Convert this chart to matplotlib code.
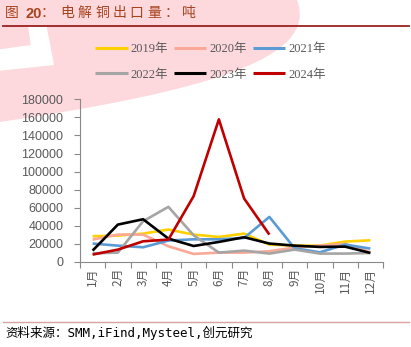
"""电解铜出口量 (吨), 2019-2024 monthly lines."""

import matplotlib
matplotlib.use("Agg")
import matplotlib.pyplot as plt
from matplotlib.patches import PathPatch, Polygon
from matplotlib.path import Path
from matplotlib.ticker import FixedLocator

W, H, DPI = 411, 347, 100

months = ["1月", "2月", "3月", "4月", "5月", "6月",
          "7月", "8月", "9月", "10月", "11月", "12月"]

y2019 = [28500, 29200, 31400, 35900, 30300, 27700, 31400, 19300, 18100, 18100, 22600, 24000]
y2020 = [24800, 30300, 30300, 17400, 8900, 10400, 10400, 11900, 16000, 18100, 20000, 10700]
y2021 = [20400, 18100, 16300, 23700, 25100, 25100, 26600, 49900, 15200, 10700, 19300, 14800]
y2022 = [9600, 10400, 45100, 61000, 29600, 10400, 12600, 9300, 13700, 9300, 9300, 10000]
y2023 = [12600, 41400, 47300, 25900, 17700, 22200, 27400, 20400, 18100, 16700, 17000, 10000]
y2024 = [8200, 13700, 22900, 24800, 72800, 157800, 70200, 30300]

series = [
    ("2019年", y2019, "#FFD000"),
    ("2020年", y2020, "#F9A995"),
    ("2021年", y2021, "#5B9BD5"),
    ("2022年", y2022, "#A5A5A5"),
    ("2023年", y2023, "#000000"),
    ("2024年", y2024, "#C00000"),
]

TITLE_CHARS = "电解铜出口量：吨"
LEGEND_FONT = ["Liberation Serif", "Noto Sans CJK SC"]
GRAY = "#595959"
TITLE_COLOR = "#A8431C"

fig = plt.figure(figsize=(W / DPI, H / DPI), dpi=DPI)

# background layer in pixel coords (y down)
bg = fig.add_axes([0, 0, 1, 1], zorder=-1)
bg.set_xlim(0, W)
bg.set_ylim(H, 0)
bg.axis("off")

pink = "#FDD9DE"
verts = [(0, 0), (0, 122), (200, 92), (320, 60), (297, 0), (0, 0)]
codes = [Path.MOVETO, Path.LINETO, Path.CURVE4, Path.CURVE4, Path.CURVE4, Path.CLOSEPOLY]
bg.add_patch(PathPatch(Path(verts, codes), facecolor=pink, edgecolor="none"))
bg.add_patch(Polygon([(0, 49.3), (30.7, 45), (28.3, 27), (46.7, 27), (54, 65), (0, 70.7)],
                     closed=True, facecolor="white", edgecolor="none"))

bg.plot([3, 409], [25.5, 25.5], color="#9B2121", lw=1.3)
bg.plot([3, 409], [322, 322], color="#D9A3A3", lw=1.0)

# title, spaced out like the report template
bg.text(5, 13, "图", color=TITLE_COLOR, fontsize=10,
        family=["Noto Sans CJK SC"], va="center", ha="left")
bg.text(25, 13.5, "20", color=TITLE_COLOR, fontsize=10.5, fontweight="bold",
        family=["Liberation Sans"], va="center", ha="left")
bg.text(41, 13, "：", color=TITLE_COLOR, fontsize=10,
        family=["Noto Sans CJK SC"], va="center", ha="left")
for i, ch in enumerate(TITLE_CHARS):
    bg.text(60.5 + i * 17.3, 13, ch, color=TITLE_COLOR, fontsize=10,
            family=["Noto Sans CJK SC"], va="center", ha="left")

bg.text(5, 333, "资料来源：SMM,iFind,Mysteel,创元研究", color="black", fontsize=9,
        family=["DejaVu Sans Mono", "Noto Sans CJK SC"], va="center", ha="left")

# main chart
ax = fig.add_axes([80 / W, 1 - 262 / H, 303 / W, (262 - 99.3) / H])
ax.set_facecolor("none")

x = list(range(len(months)))
lines = {}
for label, vals, color in series:
    lines[label], = ax.plot(x[:len(vals)], vals, color=color, lw=1.9, label=label,
                            solid_capstyle="butt")

ax.set_xlim(-0.5, len(months) - 0.5)
ax.set_ylim(0, 180000)
ax.set_yticks(range(0, 180001, 20000))
ax.set_xticks(x)
ax.set_xticklabels(months, rotation=90, family=["Noto Sans CJK SC"], fontsize=8.5, color=GRAY)
ax.xaxis.set_minor_locator(FixedLocator([i - 0.5 for i in range(len(months) + 1)]))
ax.tick_params(axis="x", which="major", length=0, pad=4)
ax.tick_params(axis="x", which="minor", length=4, color="#898989", width=0.8)
ax.tick_params(axis="y", length=4, color="#898989", width=0.8, labelsize=9,
               labelcolor=GRAY, pad=8)
for lbl in ax.get_yticklabels():
    lbl.set_family("Liberation Sans")

for side in ("top", "right"):
    ax.spines[side].set_visible(False)
for side in ("left", "bottom"):
    ax.spines[side].set_color("#898989")
    ax.spines[side].set_linewidth(0.8)

# legend fills column-first, so interleave to get rows 2019-2021 / 2022-2024
order = ["2019年", "2022年", "2020年", "2023年", "2021年", "2024年"]
leg = ax.legend([lines[k] for k in order], order,
                loc="upper left", bbox_to_anchor=(95 / W, 1 - 43 / H),
                bbox_transform=fig.transFigure, ncol=3, frameon=False,
                prop={"family": LEGEND_FONT, "size": 9},
                handlelength=2.6, handletextpad=0.25, columnspacing=0.45,
                labelspacing=1.1, borderpad=0, borderaxespad=0)
for t in leg.get_texts():
    t.set_color(GRAY)
for h in leg.get_lines():
    h.set_linewidth(2.2)

fig.savefig("out.png", dpi=DPI)
